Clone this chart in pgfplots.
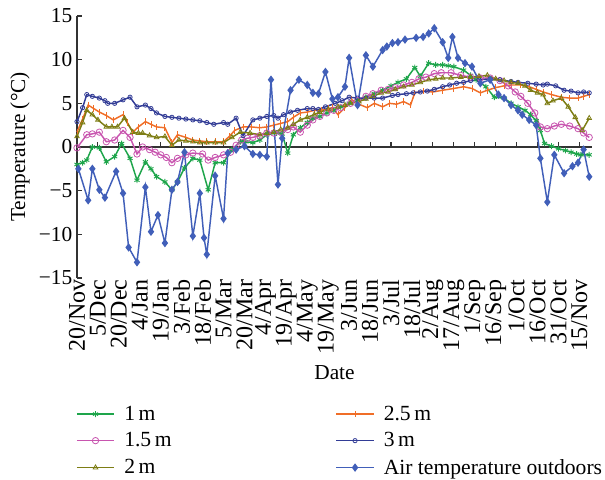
\documentclass[border=0pt]{standalone}
\usepackage{fontspec}
\setmainfont{Liberation Serif}
\usepackage{pgfplots}
\pgfplotsset{compat=1.18}

\definecolor{cOne}{RGB}{30,165,75}
\definecolor{cOneFive}{RGB}{200,85,175}
\definecolor{cTwo}{RGB}{125,125,20}
\definecolor{cTwoFive}{RGB}{240,110,40}
\definecolor{cThree}{RGB}{50,60,150}
\definecolor{cAir}{RGB}{65,95,185}

\begin{document}
\begin{tikzpicture}[font=\fontsize{16}{19}\selectfont]
\begin{axis}[
    scale only axis,
    width=386.25pt, height=196.5pt,
    xmin=0, xmax=369,
    ymin=-15, ymax=15,
    clip=false,
    axis x line*=bottom,
    axis y line*=left,
    x axis line style={draw=none},
    y axis line style={black!80, line width=0.8pt},
    xtick={0,15,...,360},
    xticklabels={20/Nov,5/Dec,20/Dec,4/Jan,19/Jan,3/Feb,18/Feb,5/Mar,20/Mar,4/Apr,19/Apr,4/May,19/May,3/Jun,18/Jun,3/Jul,18/Jul,2/Aug,17/Aug,1/Sep,16/Sep,1/Oct,16/Oct,31/Oct,15/Nov},
    xticklabel style={rotate=90, anchor=east, inner sep=1pt, font=\fontsize{18}{20}\selectfont},
    xtick style={draw=none},
    ytick={-15,-10,...,15},
    yticklabels={−15,−10,−5,0,5,10,15},
    ytick style={black!80, line width=0.8pt},
    tick align=inside,
    major tick length=4pt,
    xlabel={Date},
    xlabel style={yshift=-4pt},
    ylabel={Temperature (°C)},
    every axis plot/.append style={line width=1.1pt},
    legend columns=2,
    legend cell align=left,
    legend style={at={(-0.01,-0.467)}, anchor=north west, draw=none, fill=none,
        font=\fontsize{16.2}{19}\selectfont,
        row sep=3.7pt,
        /tikz/every odd column/.append style={column sep=5pt},
        /tikz/every even column/.append style={column sep=121pt}},
    legend image code/.code={\draw[#1, mark repeat=2, mark phase=2] plot coordinates {(0pt,0pt) (14pt,0pt) (28pt,0pt)};},
]

% zero line with its ticks
\draw[black!80, line width=0.8pt] (axis cs:0,0) -- (axis cs:369,0);
\pgfplotsinvokeforeach{15,30,...,360}{\draw[black!80, line width=0.8pt] (axis cs:#1,0) -- ++(0pt,4pt);}

% 1 m
\addplot[color=cOne, mark=asterisk, mark size=2.2pt, mark options={line width=0.7pt}] coordinates {
(0,-2.0)(4,-1.8)(7,-1.5)(11,0.0)(16,-0.1)(21,-1.7)(27,-1.1)(32,0.4)(38,-1.3)(43,-3.8)
(49,-1.7)(53,-2.5)(57,-3.4)(63,-4.0)(68,-4.9)(72,-4.0)(77,-2.4)(83,-1.3)(88,-1.5)(94,-4.9)
(99,-1.8)(105,-1.8)(111,-0.3)(117,0.6)(121,0.6)(126,0.5)(131,0.8)(136,1.4)(143,1.6)(147,1.5)
(151,-0.7)(155,1.4)(160,2.2)(165,2.8)(169,3.3)(174,3.5)(179,3.9)(184,4.2)(189,4.6)(195,5.0)
(201,5.3)(207,5.7)(213,6.1)(219,6.5)(225,7.0)(230,7.4)(236,7.8)(242,9.1)(246,8.1)(252,9.6)
(257,9.4)(262,9.4)(266,9.3)(270,9.2)(277,8.8)(282,8.2)(286,7.7)(293,6.9)(299,5.7)(306,5.6)
(311,5.0)(316,4.6)(321,4.2)(325,3.7)(329,3.0)(332,1.9)(335,0.4)(340,0.1)(345,-0.2)(350,-0.4)
(354,-0.6)(358,-0.8)(361,-0.9)(367,-0.9)
};
\addlegendentry{1\,m}

% 2.5 m
\addplot[color=cTwoFive, mark=|, mark size=2.5pt, mark options={line width=0.7pt}] coordinates {
(0,1.7)(4,3.2)(8,4.8)(12,4.4)(16,4.0)(21,3.6)(26,3.1)(33,3.7)(36,2.8)(40,1.7)
(44,2.3)(49,2.9)(53,2.6)(57,2.3)(63,2.2)(68,0.5)(72,1.4)(78,1.1)(83,0.8)(88,0.7)
(93,0.6)(99,0.6)(105,0.6)(109,1.2)(113,1.9)(119,2.3)(125,2.3)(131,2.2)(136,2.3)(141,2.5)
(146,2.7)(151,2.9)(155,3.4)(160,3.9)(165,4.0)(170,4.2)(175,4.2)(180,4.4)(183,4.5)(187,3.7)
(192,4.5)(197,5.4)(202,4.9)(208,4.5)(213,5.0)(219,4.6)(224,5.0)(229,4.9)(234,5.2)(239,4.8)
(242,6.2)(248,6.4)(255,6.3)(262,6.5)(270,6.7)(277,6.9)(283,6.7)(289,6.2)(294,6.5)(300,6.8)
(306,7.0)(311,7.1)(318,7.1)(324,6.9)(329,6.6)(334,6.3)(340,6.0)(347,5.7)(353,5.6)(359,5.6)
(363,5.8)(367,6.0)
};
\addlegendentry{2.5\,m}

% 1.5 m
\addplot[color=cOneFive, mark=o, mark size=2.4pt, mark options={line width=0.6pt}] coordinates {
(0,-0.1)(7,1.4)(11,1.5)(16,1.7)(21,0.6)(27,0.8)(33,1.9)(38,1.1)(43,-0.8)(47,0.0)
(52,-0.3)(56,-0.6)(60,-0.9)(64,-1.2)(68,-1.8)(72,-1.3)(78,-0.9)(83,-0.7)(90,-0.8)(94,-1.5)
(99,-1.2)(105,-0.9)(110,-0.6)(114,0.2)(118,0.8)(122,1.0)(126,1.1)(131,1.3)(136,1.6)(141,1.6)
(146,1.7)(151,2.0)(155,2.3)(160,1.7)(165,2.5)(169,3.1)(174,3.5)(179,3.9)(184,4.2)(189,4.5)
(196,5.0)(201,5.3)(207,5.8)(212,6.1)(218,6.5)(223,6.6)(228,6.8)(234,7.1)(240,7.4)(245,7.8)
(250,8.0)(256,8.4)(261,8.5)(268,8.5)(275,8.2)(282,8.0)(289,7.9)(296,7.9)(303,7.6)(309,7.0)
(314,6.3)(318,5.8)(323,5.0)(328,3.9)(332,2.3)(337,2.1)(342,2.4)(347,2.6)(353,2.4)(359,2.1)
(363,1.6)(367,1.1)
};
\addlegendentry{1.5\,m}

% 3 m
\addplot[color=cThree, mark=o, mark size=1.6pt, mark options={line width=0.6pt}] coordinates {
(0,2.9)(4,4.5)(7,6.0)(11,5.8)(16,5.6)(20,5.3)(22,5.0)(27,5.0)(33,5.4)(38,5.7)
(43,4.6)(49,4.8)(53,4.4)(57,3.9)(63,3.5)(68,3.4)(73,3.3)(78,3.2)(83,3.1)(88,3.0)
(93,2.8)(98,2.6)(105,2.8)(108,2.6)(114,3.3)(119,1.3)(126,3.1)(131,3.3)(136,3.5)(141,3.6)
(144,3.3)(148,3.7)(153,4.0)(158,4.2)(165,4.4)(169,4.4)(173,4.3)(178,4.6)(185,5.0)(190,5.3)
(195,5.7)(201,5.6)(207,5.6)(213,5.6)(219,5.6)(226,5.9)(230,6.0)(236,6.1)(241,6.2)(246,6.3)
(251,6.4)(256,6.6)(262,6.9)(267,7.1)(272,7.3)(277,7.4)(282,7.6)(288,7.7)(296,7.8)(303,7.7)
(311,7.5)(316,7.4)(323,7.3)(329,7.2)(334,7.1)(337,7.2)(343,7.0)(349,6.5)(354,6.4)(359,6.2)
(363,6.3)(367,6.2)
};
\addlegendentry{3\,m}

% 2 m
\addplot[color=cTwo, mark=triangle, mark size=2pt, mark options={line width=0.6pt}] coordinates {
(0,1.2)(4,2.8)(7,4.2)(11,3.7)(15,3.1)(21,2.3)(25,2.3)(29,2.3)(34,3.3)(40,1.7)
(44,1.6)(47,1.6)(52,1.3)(57,1.1)(63,1.2)(68,0.2)(73,0.8)(78,0.7)(83,0.6)(88,0.5)
(93,0.5)(99,0.5)(105,0.5)(111,1.1)(117,1.7)(124,1.6)(131,1.4)(136,1.6)(141,1.7)(146,2.0)
(151,2.2)(155,2.6)(160,3.1)(165,3.4)(170,3.7)(174,4.0)(180,4.3)(187,4.6)(192,4.8)(196,5.0)
(202,5.2)(207,5.5)(212,5.8)(218,6.2)(223,6.3)(228,6.6)(234,6.9)(240,7.1)(246,7.4)(252,7.7)
(257,7.8)(262,7.9)(268,7.9)(275,8.0)(282,8.0)(288,8.1)(294,8.2)(300,7.8)(306,7.6)(311,7.4)
(316,7.3)(321,7.0)(325,6.5)(330,6.2)(334,6.0)(337,5.0)(341,5.3)(347,5.6)(352,4.6)(357,3.4)
(362,1.9)(367,3.3)
};
\addlegendentry{2\,m}

% Air temperature outdoors
\addplot[color=cAir, mark=diamond*, mark size=2.3pt] coordinates {
(1,-2.5)(8,-6.1)(11,-2.5)(16,-4.9)(20,-5.8)(28,-2.8)(33,-5.3)(37,-11.5)(43,-13.2)(49,-4.6)
(53,-9.7)(58,-7.8)(63,-11.0)(68,-4.9)(72,-4.0)(77,-0.6)(83,-10.2)(88,-5.3)(91,-10.4)(93,-12.3)
(99,-3.3)(105,-8.2)(108,-0.7)(114,-0.3)(120,0.1)(126,-0.8)(131,-0.9)(136,-1.1)(139,7.7)(144,-4.3)
(147,1.0)(153,6.5)(159,7.7)(165,7.1)(169,6.2)(173,6.1)(178,8.6)(183,5.5)(187,5.7)(192,6.9)
(195,10.2)(201,4.8)(207,10.5)(212,9.2)(219,11.1)(222,11.5)(226,11.9)(230,12.0)(235,12.3)(243,12.5)
(248,12.6)(252,13.0)(256,13.6)(262,12.0)(266,10.2)(269,12.6)(273,10.2)(278,9.6)(283,9.2)(289,7.3)
(296,7.7)(302,6.0)(306,5.6)(311,4.8)(316,4.2)(319,3.7)(324,3.1)(329,2.5)(332,-1.3)(337,-6.3)
(342,-0.9)(349,-3.0)(355,-2.2)(359,-1.8)(363,-0.3)(367,-3.4)
};
\addlegendentry{Air temperature outdoors}

\end{axis}
\pgfresetboundingbox
\path (current axis.south west) ++(-57.75pt,-151.5pt) rectangle ([shift={(9.75pt,12pt)}]current axis.north east);
\end{tikzpicture}
\end{document}
